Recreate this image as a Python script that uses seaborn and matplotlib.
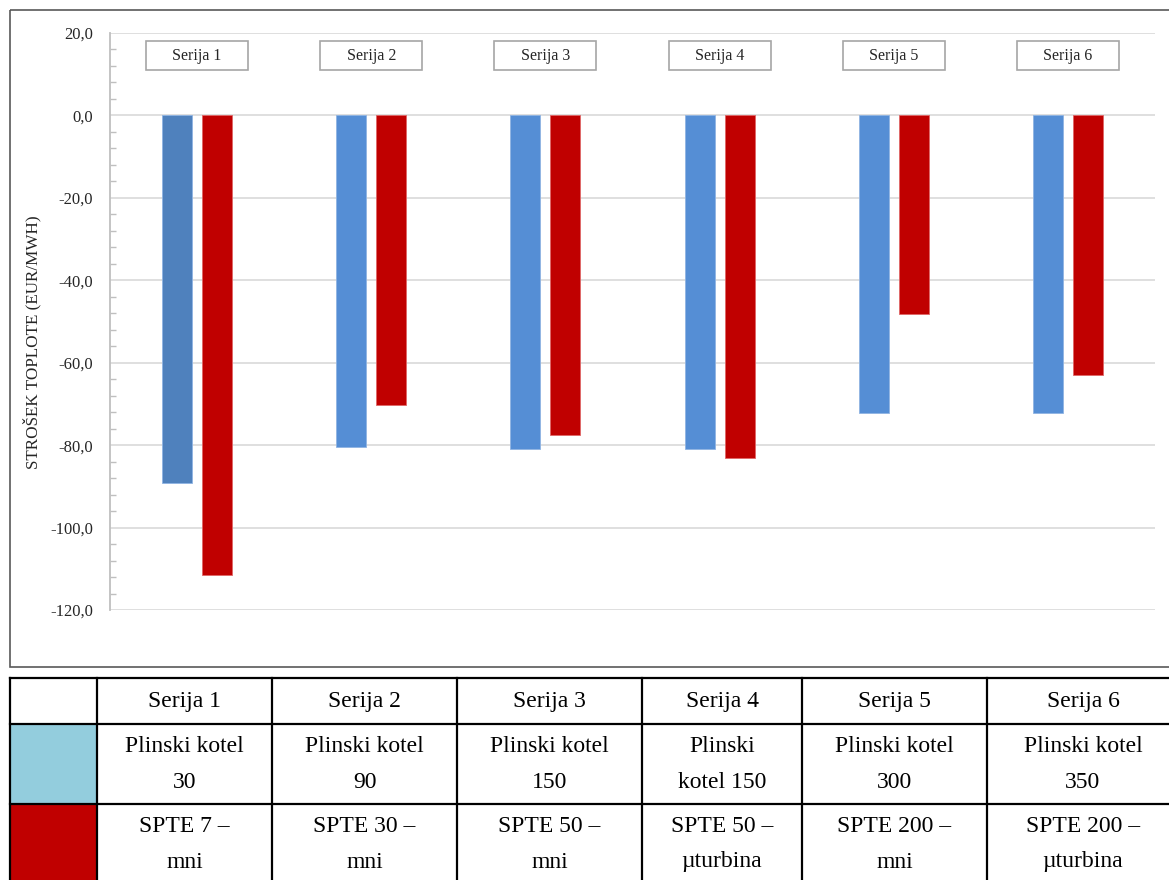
import matplotlib
matplotlib.use("Agg")
import matplotlib.pyplot as plt
from matplotlib.patches import Rectangle
from matplotlib.ticker import FuncFormatter, MultipleLocator
import pandas as pd
import seaborn as sns

# Heat cost per configuration (EUR/MWh)
series = ["Serija 1", "Serija 2", "Serija 3", "Serija 4", "Serija 5", "Serija 6"]
boiler_cost = [-89.3, -80.4, -80.9, -80.9, -72.3, -72.3]
chp_cost = [-111.5, -70.3, -77.6, -83.2, -48.3, -62.9]

# Legend table text
boiler_labels = ["Plinski kotel\n30", "Plinski kotel\n90", "Plinski kotel\n150",
                 "Plinski\nkotel 150", "Plinski kotel\n300", "Plinski kotel\n350"]
chp_labels = ["SPTE 7 –\nmni", "SPTE 30 –\nmni", "SPTE 50 –\nmni",
              "SPTE 50 –\nµturbina", "SPTE 200 –\nmni", "SPTE 200 –\nµturbina"]

BLUE = "#558ED5"
BLUE_DARK = "#4F81BD"
RED = "#C00000"
SWATCH_BLUE = "#93CDDD"
SERIF = "Liberation Serif"

sns.set_theme(style="white")
plt.rcParams["font.family"] = [SERIF, "DejaVu Serif"]

df = pd.DataFrame({
    "serija": series * 2,
    "strosek": boiler_cost + chp_cost,
    "vir": ["kotel"] * len(series) + ["spte"] * len(series),
})

W, H = 1169, 880
fig = plt.figure(figsize=(W / 100, H / 100), dpi=100)

# Background overlay in pixel coordinates for frame and table
over = fig.add_axes([0, 0, 1, 1], zorder=0)
over.set_xlim(0, W)
over.set_ylim(H, 0)
over.axis("off")

# Chart frame
over.add_patch(Rectangle((9.5, 10.5), W + 20, 656.5, fill=False,
                         ec="#595959", lw=1.2))

ax = fig.add_axes([110 / W, (H - 610) / H, (1155 - 110) / W, (610 - 33) / H], zorder=1)
ax.patch.set_alpha(0)

sns.barplot(data=df, x="serija", y="strosek", hue="vir",
            palette={"kotel": BLUE, "spte": RED}, width=0.46, gap=0.25,
            saturation=1, legend=False, ax=ax, zorder=3)
ax.containers[0][0].set_facecolor(BLUE_DARK)
for cont, ec in zip(ax.containers, ["#8FB4E3", "#E06666"]):
    for bar in cont:
        bar.set_edgecolor(ec)
        bar.set_linewidth(0.6)

ax.set_xlim(-0.5, len(series) - 0.5)
ax.set_ylim(-120, 20)
ax.yaxis.set_major_locator(MultipleLocator(20))
ax.yaxis.set_minor_locator(MultipleLocator(4))
ax.yaxis.set_major_formatter(FuncFormatter(lambda v, p: f"{v:.1f}".replace(".", ",")))
ax.grid(axis="y", which="major", color="#D9D9D9", lw=1.2, zorder=0)
ax.set_axisbelow(True)
for s in ["top", "right", "bottom"]:
    ax.spines[s].set_visible(False)
ax.spines["left"].set_color("#BFBFBF")
ax.spines["left"].set_linewidth(1.3)
ax.tick_params(axis="y", which="major", direction="out", length=0, pad=12,
               labelsize=12, labelcolor="#262626")
ax.tick_params(axis="y", which="minor", direction="in", length=4, width=1,
               color="#BFBFBF", left=True)
ax.tick_params(axis="x", length=0, labelbottom=False)
for lbl in ax.get_yticklabels():
    lbl.set_fontfamily(SERIF)
ax.set_xlabel("")
ax.set_ylabel("")

fig.text(32 / W, 1 - 342 / H, "STROŠEK TOPLOTE (EUR/MWH)", rotation=90,
         ha="center", va="center", fontsize=12.3, color="#262626", family=SERIF)

# Series name boxes above each group
box_w, box_h, box_y = 0.586, 7.0, 11.0
for i, name in enumerate(series):
    ax.add_patch(Rectangle((i - box_w / 2, box_y), box_w, box_h, fc="white",
                           ec="#A6A6A6", lw=1.2, zorder=4))
    ax.text(i, box_y + box_h / 2, name, ha="center", va="center",
            fontsize=11.5, color="#262626", family=SERIF, zorder=5)

# Table below the chart
cols = [10, 97, 272, 457, 642, 802, 987, 1179]
rows = [678, 724, 804, 884]
over.add_patch(Rectangle((cols[0], rows[1]), cols[1] - cols[0], rows[2] - rows[1],
                         fc=SWATCH_BLUE, ec="none"))
over.add_patch(Rectangle((cols[0], rows[2]), cols[1] - cols[0], rows[3] - rows[2],
                         fc=RED, ec="none"))
for x in cols:
    over.plot([x, x], [rows[0], rows[-1]], color="black", lw=1.6, solid_capstyle="projecting")
for y in rows:
    over.plot([cols[0], cols[-1]], [y, y], color="black", lw=1.6, solid_capstyle="projecting")

for j in range(len(series)):
    cx = (cols[j + 1] + cols[j + 2]) / 2
    over.text(cx, (rows[0] + rows[1]) / 2 + 1, series[j], ha="center", va="center",
              fontsize=17, family=SERIF, color="black")
    for r, lab in ((1, boiler_labels[j]), (2, chp_labels[j])):
        top, bot = lab.split("\n")
        cy = rows[r] + 22
        over.text(cx, cy, top, ha="center", va="center", fontsize=17,
                  family=SERIF, color="black")
        over.text(cx, cy + 36, bot, ha="center", va="center", fontsize=17,
                  family=SERIF, color="black")

fig.savefig("out.png", dpi=100, facecolor="white")
